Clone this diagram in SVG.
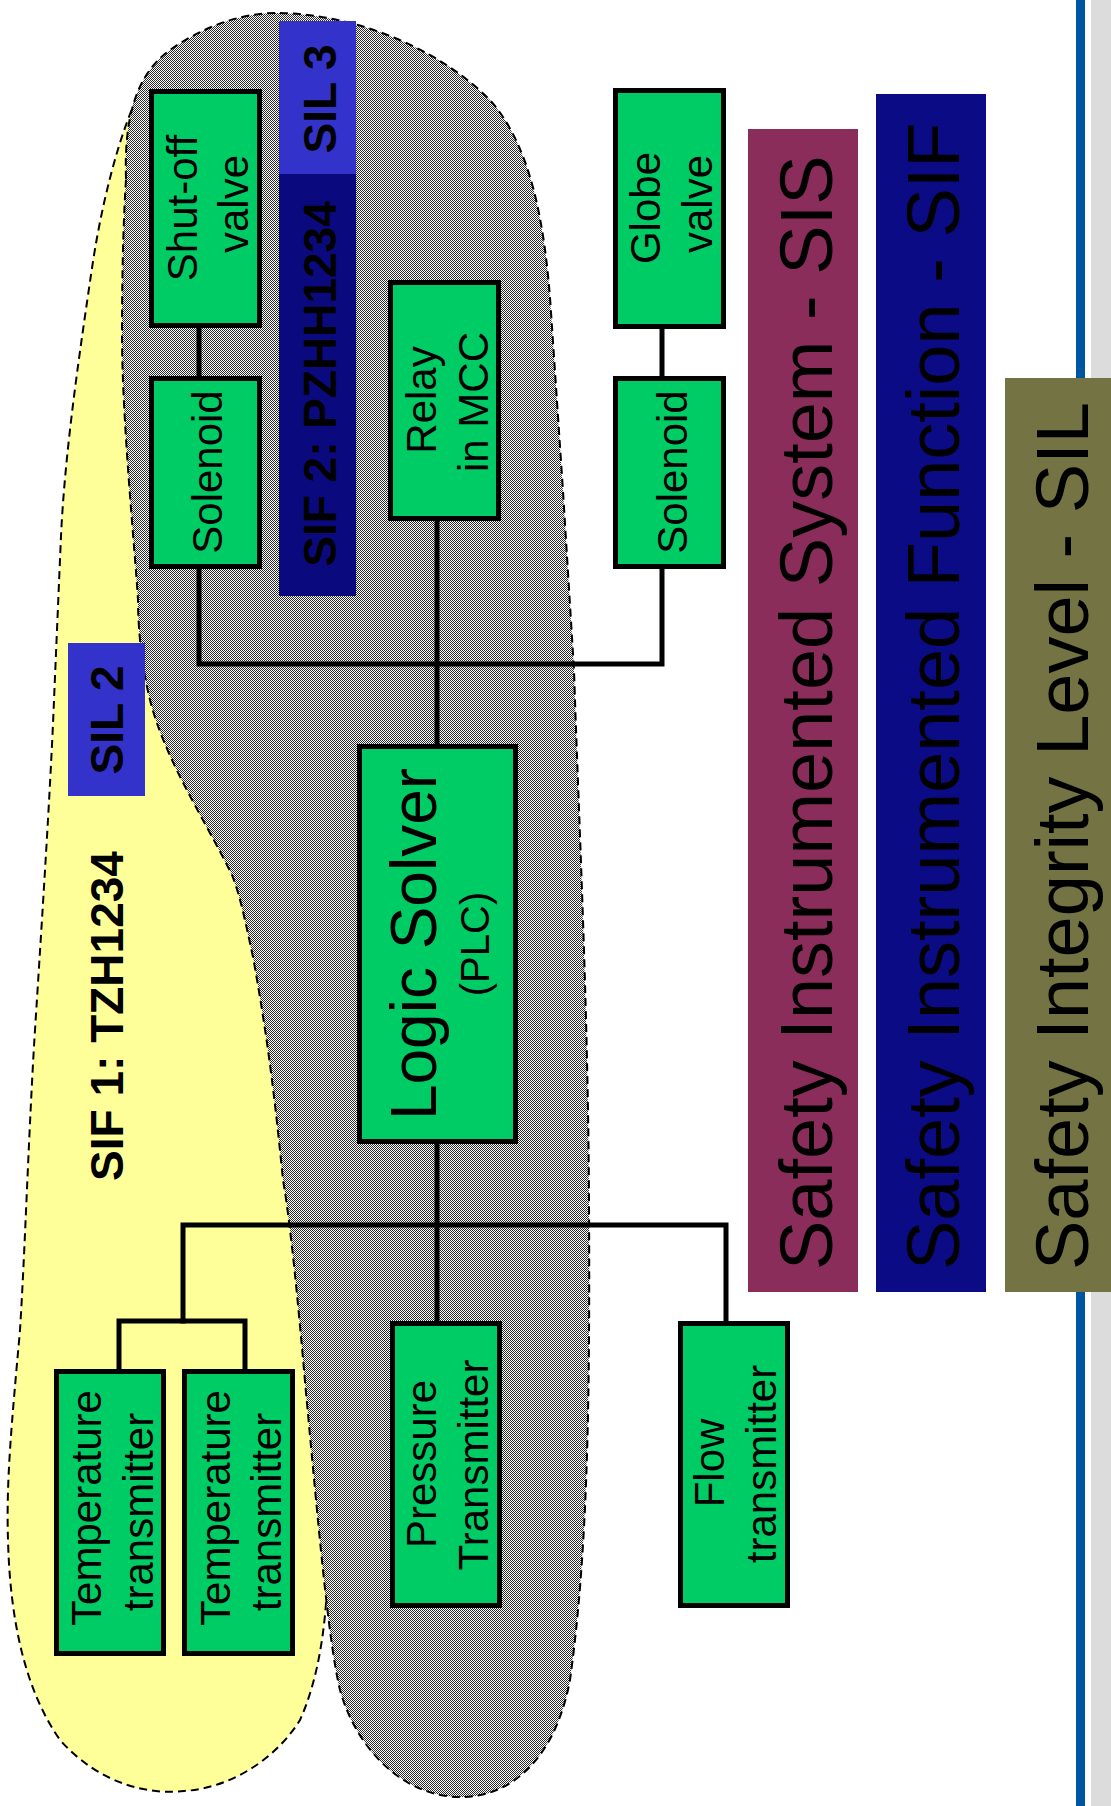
<svg xmlns="http://www.w3.org/2000/svg" width="1111" height="1806" viewBox="0 0 1111 1806">
<defs>
<pattern id="dither" width="2" height="2" patternUnits="userSpaceOnUse">
<rect width="2" height="2" fill="#ffffff"/>
<rect x="0" y="0" width="1" height="1" fill="#2a2a2a"/>
<rect x="1" y="1" width="1" height="1" fill="#2a2a2a"/>
</pattern>
<style>
.node rect{fill:#00cc66;stroke:#000;stroke-width:5}
.t{font-family:"Liberation Sans",Arial,sans-serif;font-size:42px;fill:#000;text-anchor:middle}
.tb{font-family:"Liberation Sans",Arial,sans-serif;font-size:46px;font-weight:bold;fill:#000;text-anchor:middle}
.big{font-family:"Liberation Sans",Arial,sans-serif;font-size:74px;fill:#000;text-anchor:start}
.conn{fill:none;stroke:#000;stroke-width:5;stroke-linecap:square}
.blob{stroke:#000;stroke-width:2;stroke-dasharray:8 5}
</style>
</defs>
<rect width="1111" height="1806" fill="#ffffff"/>
<rect x="1076" y="0" width="9" height="1806" fill="#0055a0"/>
<rect x="1091" y="0" width="20" height="1806" fill="#dcdcdc"/>

<g id="sif1-zone">
<path class="blob" fill="#ffff99" d="M150,76 C130,100 105,180 92,268 C80,350 65,450 61,536 L54,700 C50,800 40,950 34,1046 C28,1150 25,1250 20,1330 C12,1420 6,1480 8,1540 C10,1620 25,1690 60,1740 C100,1785 150,1795 184,1791 C230,1788 275,1760 300,1720 C318,1680 325,1630 327,1587 L300,1250 L250,900 L160,700 L135,400 L140,150 Z"/>
</g>
<g id="sis-zone">
<path class="blob" fill="url(#dither)" d="M126,179 C124,120 135,75 170,50 C210,22 250,12 280,13 C360,15 440,50 490,100 C530,145 545,220 551,312 L563,491 L574,670 C578,800 588,1000 589,1200 C590,1400 588,1550 570,1680 C555,1760 510,1798 459,1797 C400,1796 355,1745 340,1690 C328,1640 318,1520 306,1393 C298,1300 290,1220 283,1180 C275,1100 268,1040 253,957 C245,920 240,895 232,875 C205,820 165,760 150,700 C140,660 138,620 138,600 C135,550 122,420 122,335 C122,260 124,210 126,179 Z"/>
</g>

<g id="sil3-label">
<rect x="279" y="21" width="77" height="153" fill="#3333cc"/>
<text class="tb" transform="rotate(-90 336 99)" x="336" y="99">SIL 3</text>
</g>
<g id="sif2-label">
<rect x="279" y="174" width="77" height="422" fill="#0a0a7e"/>
<text class="tb" transform="rotate(-90 336 384)" x="336" y="384">SIF 2: PZHH1234</text>
</g>
<g id="sil2-label">
<rect x="68" y="643" width="77" height="153" fill="#3333cc"/>
<text class="tb" transform="rotate(-90 123 720)" x="123" y="720">SIL 2</text>
</g>
<g id="sif1-label">
<text class="tb" transform="rotate(-90 123 1016)" x="123" y="1016">SIF 1: TZH1234</text>
</g>

<g id="connectors">
<path class="conn" d="M199,328 V376"/>
<path class="conn" d="M199,569 V664 H662 V569"/>
<path class="conn" d="M662,329 V376"/>
<path class="conn" d="M437,521 V744"/>
<path class="conn" d="M437,1144 V1321"/>
<path class="conn" d="M183,1321 V1225 H726 V1321"/>
<path class="conn" d="M119,1369 V1321 H245 V1369"/>
</g>

<g id="shutoff-valve" class="node">
<rect x="151.5" y="91.5" width="108" height="234"/>
<text class="t" transform="rotate(-90 197 208)" x="197" y="208">Shut-off</text>
<text class="t" transform="rotate(-90 248 204)" x="248" y="204">valve</text>
</g>
<g id="solenoid-1" class="node">
<rect x="151.5" y="378.5" width="108" height="188"/>
<text class="t" transform="rotate(-90 222 472)" x="222" y="472">Solenoid</text>
</g>
<g id="relay-mcc" class="node">
<rect x="390.5" y="282.5" width="108" height="236"/>
<text class="t" transform="rotate(-90 436 400)" x="436" y="400">Relay</text>
<text class="t" transform="rotate(-90 488 402)" x="488" y="402">in MCC</text>
</g>
<g id="globe-valve" class="node">
<rect x="615.5" y="90.5" width="108" height="236"/>
<text class="t" transform="rotate(-90 660 208)" x="660" y="208">Globe</text>
<text class="t" transform="rotate(-90 712 204)" x="712" y="204">valve</text>
</g>
<g id="solenoid-2" class="node">
<rect x="615.5" y="378.5" width="108" height="188"/>
<text class="t" transform="rotate(-90 687 472)" x="687" y="472">Solenoid</text>
</g>
<g id="logic-solver" class="node">
<rect x="359.5" y="746.5" width="156" height="395"/>
<text class="t" style="font-size:64px" transform="rotate(-90 436 944)" x="436" y="944">Logic Solver</text>
<text class="t" style="font-size:40px" transform="rotate(-90 489 944)" x="489" y="944">(PLC)</text>
</g>
<g id="temp-transmitter-1" class="node">
<rect x="56.5" y="1371.5" width="107" height="282"/>
<text class="t" transform="rotate(-90 101 1508)" x="101" y="1508">Temperature</text>
<text class="t" transform="rotate(-90 153 1512)" x="153" y="1512">transmitter</text>
</g>
<g id="temp-transmitter-2" class="node">
<rect x="184.5" y="1371.5" width="108" height="282"/>
<text class="t" transform="rotate(-90 230 1508)" x="230" y="1508">Temperature</text>
<text class="t" transform="rotate(-90 281 1512)" x="281" y="1512">transmitter</text>
</g>
<g id="pressure-transmitter" class="node">
<rect x="392.5" y="1323.5" width="107" height="282"/>
<text class="t" transform="rotate(-90 436 1464)" x="436" y="1464">Pressure</text>
<text class="t" transform="rotate(-90 488 1465)" x="488" y="1465">Transmitter</text>
</g>
<g id="flow-transmitter" class="node">
<rect x="680.5" y="1323.5" width="107" height="282"/>
<text class="t" transform="rotate(-90 724 1463)" x="724" y="1463">Flow</text>
<text class="t" transform="rotate(-90 776 1464)" x="776" y="1464">transmitter</text>
</g>

<g id="legend-sis">
<rect x="748" y="129" width="110" height="1163" fill="#8b2d5a"/>
<text class="big" transform="rotate(-90 832 1270)" x="832" y="1270">Safety Instrumented System - SIS</text>
</g>
<g id="legend-sif">
<rect x="876" y="94" width="110" height="1198" fill="#0b0b86"/>
<text class="big" transform="rotate(-90 959 1270)" x="959" y="1270">Safety Instrumented Function - SIF</text>
</g>
<g id="legend-sil">
<rect x="1005" y="378" width="106" height="914" fill="#737343"/>
<text class="big" transform="rotate(-90 1088 1270)" x="1088" y="1270">Safety Integrity Level - SIL</text>
</g>
</svg>
